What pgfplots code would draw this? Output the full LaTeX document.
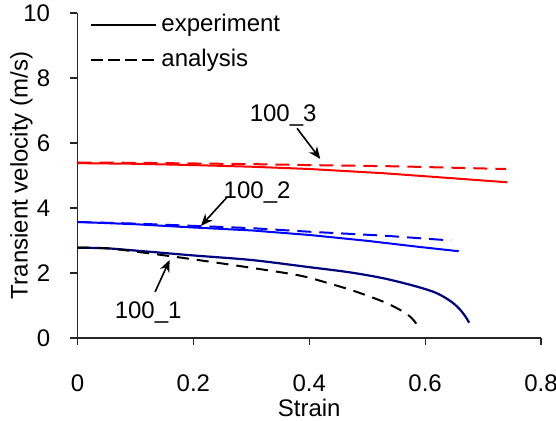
\documentclass[border=0pt]{standalone}
\usepackage{fontspec}
\setmainfont{Liberation Sans}
\usepackage{pgfplots}
\pgfplotsset{compat=1.18}
\usetikzlibrary{arrows.meta}
\definecolor{navy}{RGB}{0,0,128}
\newcommand{\fs}{\fontsize{12}{14.4}\selectfont}
\begin{document}
\fs
\begin{tikzpicture}
\begin{axis}[
 anchor=south west, at={(0,0)},
 scale only axis, width=231.75pt, height=162.5pt,
 xmin=0, xmax=0.8, ymin=0, ymax=10,
 axis x line=bottom, axis y line=left,
 axis line style={-, line width=0.6pt, black!85},
 xtick={0,0.2,0.4,0.6,0.8},
 ytick={0,2,4,6,8,10},
 tick align=outside, major tick length=3.5pt,
 tick style={black!85, line width=0.6pt},
 /pgf/number format/assume math mode=true,
 ticklabel style={font=\fs},
 xticklabel style={yshift=-10.5pt},
 yticklabel style={xshift=-6pt},
 xlabel={Strain}, ylabel={Transient velocity (m/s)},
 label style={font=\fs},
 xlabel style={at={(axis description cs:0.5,-0.216)}, anchor=center},
 ylabel style={at={(axis description cs:-0.121,0.5)}, anchor=center},
 clip=false,
 legend style={draw=none, fill=none, at={(axis cs:0.0216,10)}, anchor=north west,
   yshift=1.6pt, inner xsep=0pt, inner ysep=0pt, row sep=3.2pt, font=\fs,
   nodes={inner sep=2pt}},
 legend cell align=left,
 legend image code/.code={\draw[#1] (0pt,0pt) -- (32.5pt,0pt);},
]
\addlegendimage{black, line width=1pt}
\addlegendentry{experiment}
\addlegendimage{black, line width=1pt, dash pattern=on 6pt off 2.5pt}
\addlegendentry{analysis}

% 100_3
\addplot[forget plot, red, line width=1pt] coordinates {
(0,5.38) (0.1,5.36) (0.2,5.32) (0.3,5.27) (0.4,5.2) (0.528,5.07) (0.644,4.92) (0.742,4.79)};
\addplot[forget plot, red, line width=1pt, dash pattern=on 7pt off 4pt] coordinates {
(0,5.4) (0.1,5.39) (0.2,5.37) (0.3,5.35) (0.4,5.32) (0.557,5.28) (0.644,5.24) (0.74,5.2)};
% 100_2
\addplot[forget plot, blue, line width=1pt] coordinates {
(0,3.57) (0.1,3.5) (0.2,3.4) (0.3,3.31) (0.4,3.17) (0.5,2.99) (0.586,2.81) (0.658,2.67)};
\addplot[forget plot, blue, line width=1pt, dash pattern=on 7pt off 4pt] coordinates {
(0,3.57) (0.1,3.52) (0.2,3.45) (0.3,3.38) (0.4,3.27) (0.528,3.15) (0.645,3.0)};
% 100_1
\addplot[forget plot, navy, line width=1.1pt, smooth] coordinates {
(0,2.78) (0.05,2.76) (0.1,2.69) (0.2,2.54) (0.3,2.4) (0.4,2.18) (0.47,2.02) (0.53,1.83) (0.586,1.58) (0.62,1.38) (0.645,1.12) (0.66,0.88) (0.67,0.65) (0.676,0.47)};
\addplot[forget plot, black, line width=1pt, dash pattern=on 6pt off 4pt, smooth] coordinates {
(0,2.78) (0.05,2.76) (0.1,2.66) (0.2,2.42) (0.3,2.16) (0.384,1.92) (0.44,1.65) (0.48,1.43) (0.53,1.1) (0.565,0.78) (0.58,0.55) (0.59,0.3)};

\node[font=\fs] at (axis cs:0.355,6.86) {100\_3};
\draw[-{Stealth[length=6pt,width=5pt]}, line width=0.8pt] (axis cs:0.379,6.45) -- (axis cs:0.419,5.51);
\node[font=\fs] at (axis cs:0.310,4.49) {100\_2};
\draw[-{Stealth[length=6pt,width=5pt]}, line width=0.8pt] (axis cs:0.257,4.31) -- (axis cs:0.213,3.45);
\node[font=\fs] at (axis cs:0.122,0.77) {100\_1};
\draw[-{Stealth[length=6pt,width=5pt]}, line width=0.8pt] (axis cs:0.134,1.42) -- (axis cs:0.159,2.4);
\end{axis}
\pgfresetboundingbox
\path[use as bounding box] (-38.75pt,-41.5pt) rectangle (239.25pt,169pt);
\end{tikzpicture}
\end{document}
